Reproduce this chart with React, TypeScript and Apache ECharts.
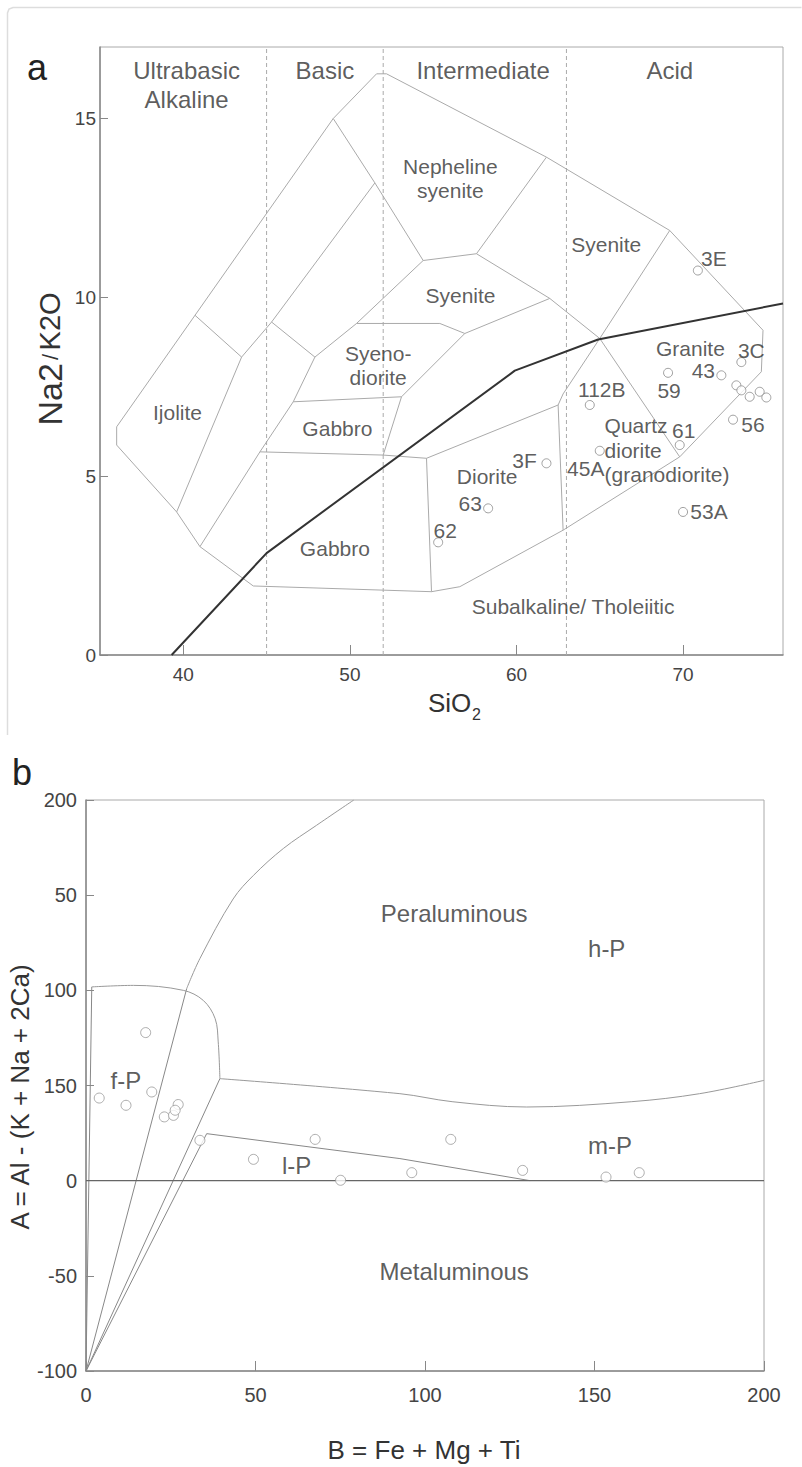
import React, { useEffect, useRef } from 'react';
import * as echarts from 'echarts';

// ---------- Panel a : Na2 / K2O vs SiO2 ----------
const xTicksA = [40, 50, 60, 70];
const yTicksA = [0, 5, 10, 15];
const silicaDividers = [45, 52, 63];
const silicaClassNames = ['Ultrabasic\nAlkaline', 'Basic', 'Intermediate', 'Acid'];
const silicaClassAnchors = [[40.2, 15.95], [48.5, 16.34], [58.0, 16.34], [69.2, 16.34]];

const outerBoundaryA = [
  [36.0, 6.38], [36.0, 5.87], [39.6, 4.0], [41.0, 3.03], [44.2, 1.93], [54.9, 1.77],
  [56.6, 1.91], [62.8, 3.49], [69.8, 5.54], [74.7, 7.92], [74.8, 9.08], [69.2, 11.87],
  [61.8, 13.92], [52.2, 16.25], [51.6, 16.25], [49.0, 15.0], [36.0, 6.38],
];
const fieldLinesA = [
  [[40.7, 9.5], [43.5, 8.33], [39.6, 4.0]],
  [[51.5, 13.2], [45.3, 9.31], [43.5, 8.33]],
  [[45.3, 9.31], [47.9, 8.33], [46.6, 7.08], [44.6, 5.68], [41.0, 3.03]],
  [[49.0, 15.0], [51.5, 13.2], [54.4, 11.03], [57.6, 11.22], [61.8, 13.92]],
  [[54.4, 11.03], [50.4, 9.27], [47.9, 8.33]],
  [[57.6, 11.22], [62.0, 9.97], [65.0, 8.85], [69.2, 11.87]],
  [[50.4, 9.27], [55.4, 9.27], [56.9, 8.99], [62.0, 9.97]],
  [[56.9, 8.99], [53.1, 7.22], [52.0, 5.59]],
  [[46.6, 7.08], [53.1, 7.22]],
  [[44.6, 5.68], [52.0, 5.59], [54.6, 5.5], [62.5, 6.99], [62.8, 7.3], [65.0, 8.85], [69.8, 5.54]],
  [[54.6, 5.5], [54.9, 1.77]],
  [[62.5, 6.99], [62.8, 3.49]],
];
const alkalineDivider = [[39.3, 0], [45.0, 2.85], [59.9, 7.95], [64.9, 8.82], [76.0, 9.83]];

const fieldNamesA = [
  'Nepheline\nsyenite', 'Syenite', 'Syenite', 'Syeno-\ndiorite', 'Ijolite', 'Gabbro',
  'Gabbro', 'Diorite', 'Granite', 'Subalkaline/ Tholeiitic',
];
const fieldAnchorsA = [
  [56.03, 13.32], [65.39, 11.49], [56.64, 10.06], [51.7, 8.1], [39.65, 6.77], [49.25, 6.34],
  [49.1, 2.99], [58.24, 4.98], [70.44, 8.58], [63.4, 1.35],
];
const quartzDioriteName = 'Quartz\ndiorite\n(granodiorite)';
const quartzDioriteAnchor = [65.29, 5.73];

const samplesA = [
  [70.89, 10.75], [73.5, 8.19], [72.3, 7.82], [69.1, 7.89], [64.4, 6.99], [69.8, 5.87],
  [73.0, 6.58], [61.8, 5.36], [65.0, 5.71], [58.3, 4.1], [55.3, 3.15], [70.0, 4.0],
  [73.2, 7.54], [73.5, 7.4], [74.0, 7.22], [74.6, 7.36], [75.0, 7.2],
];
const sampleNamesA = ['3E', '3C', '43', '59', '112B', '61', '56', '3F', '45A', '63', '62', '53A', '', '', '', '', ''];
const sampleLabelShiftA = [
  [16, -12], [10, -12], [-18, -5], [1, 18], [12, -16], [4, -15], [20, 5], [-22, -3],
  [-14, 18], [-18, -5], [7, -12], [26, 0], [0, 0], [0, 0], [0, 0], [0, 0], [0, 0],
];

// ---------- Panel b : A vs B ----------
const yTickLabelsB = ['-100', '-50', '0', '150', '100', '50', '200'];
const zeroLineB = [[0, 0], [200, 0]];
const straightLinesB = [
  [[0, -100], [1.7, 101.8]],
  [[0, -100], [29.7, 100.9]],
  [[0, -100], [39.5, 53.6]],
  [[0, -100], [35.6, 24.7]],
  [[35.6, 24.7], [92.6, 11.6], [131, 0]],
];
const curvesB = [
  [[1.7, 101.8], [14, 102.6], [28.7, 100], [34.6, 94.7], [38.1, 85.1], [39.0, 72.9], [39.5, 53.6]],
  [[29.7, 100.9], [33.6, 116.7], [43.4, 148], [49.4, 160.4], [58.2, 174.5], [68, 186.7], [79, 200]],
  [[39.5, 53.6], [92.6, 45.7], [108, 41.5], [130, 38.7], [161, 41.5], [181, 45.7], [200, 52.7]],
];
const fieldNamesB = ['Peraluminous', 'h-P', 'f-P', 'l-P', 'm-P', 'Metaluminous'];
const fieldAnchorsB = [[108.6, 140.3], [153.6, 121.9], [11.75, 52.7], [62.15, 8.05], [154.6, 18.55], [108.6, -47.8]];
const samplesB = [
  [17.6, 77.8], [19.4, 46.6], [3.9, 43.4], [11.8, 39.6], [27.2, 40.0], [23.1, 33.5],
  [25.8, 34.3], [26.3, 37.0], [33.6, 21.2], [49.4, 11.2], [67.6, 21.7], [75.1, 0.2],
  [96.1, 4.2], [107.6, 21.7], [128.8, 5.4], [153.4, 1.9], [163.2, 4.2],
];

const FONT = "'Liberation Sans', Arial, Helvetica, sans-serif";
const TXT = '#333';

function lineSeries(data: number[][], gi: number, color: string, width: number, extra: any = {}) {
  return {
    type: 'line', xAxisIndex: gi, yAxisIndex: gi, data, symbol: 'none', silent: true,
    lineStyle: { color, width, ...(extra.lineStyle || {}) }, z: extra.z ?? 2, smooth: extra.smooth ?? false,
    clip: true,
  };
}

function textSeries(names: string[], anchors: number[][], gi: number, fontSize: number, extraLabel: any = {}) {
  return {
    type: 'scatter', xAxisIndex: gi, yAxisIndex: gi, silent: true, symbolSize: 1,
    itemStyle: { color: 'rgba(0,0,0,0)' }, z: 5,
    data: names.map((n, i) => ({
      value: anchors[i],
      label: {
        show: true, formatter: n, position: 'inside', fontSize, color: TXT, fontFamily: FONT,
        align: 'center', verticalAlign: 'middle', lineHeight: fontSize * 1.2, ...extraLabel,
      },
    })),
  };
}

export default function App() {
  const ref = useRef<HTMLDivElement>(null);
  useEffect(() => {
    if (!ref.current) return;
    const chart = echarts.init(ref.current, null, { renderer: 'svg' });
    const series: any[] = [];

    // Panel a
    silicaDividers.forEach((x) => {
      series.push(lineSeries([[x, 0], [x, 17]], 0, '#aaa', 1, { lineStyle: { type: [4, 3] } }));
    });
    series.push(lineSeries(outerBoundaryA, 0, '#aaa', 1));
    fieldLinesA.forEach((l) => series.push(lineSeries(l, 0, '#aaa', 1)));
    series.push(lineSeries(alkalineDivider, 0, '#333', 2, { z: 3 }));
    series.push(textSeries(silicaClassNames, silicaClassAnchors, 0, 24, { lineHeight: 29 }));
    series.push(textSeries(fieldNamesA, fieldAnchorsA, 0, 21, { lineHeight: 24 }));
    series.push(textSeries([quartzDioriteName], [quartzDioriteAnchor], 0, 21, { lineHeight: 24.5, align: 'left' }));
    series.push({
      type: 'scatter', xAxisIndex: 0, yAxisIndex: 0, symbol: 'circle', symbolSize: 9, z: 6, silent: true,
      itemStyle: { color: '#fff', borderColor: '#888', borderWidth: 1 },
      data: samplesA.map((p, i) => ({
        value: p,
        label: {
          show: sampleNamesA[i] !== '', formatter: sampleNamesA[i], position: 'inside',
          offset: sampleLabelShiftA[i], fontSize: 21, color: TXT, fontFamily: FONT,
          align: 'center', verticalAlign: 'middle',
        },
      })),
    });

    // Panel b
    series.push(lineSeries(zeroLineB, 1, '#666', 1.2, { z: 3 }));
    straightLinesB.forEach((l) => series.push(lineSeries(l, 1, '#888', 1)));
    curvesB.forEach((l) => series.push(lineSeries(l, 1, '#999', 1, { smooth: 0.35 })));
    series.push(textSeries(fieldNamesB, fieldAnchorsB, 1, 24));
    series.push({
      type: 'scatter', xAxisIndex: 1, yAxisIndex: 1, symbol: 'circle', symbolSize: 10, z: 6, silent: true,
      itemStyle: { color: '#fff', borderColor: '#999', borderWidth: 1 },
      data: samplesB,
    });

    const axisLine = { show: true, onZero: false, lineStyle: { color: '#888', width: 1.5 } };
    const tickStyle = { color: '#888', width: 1 };

    chart.setOption({
      animation: false,
      textStyle: { fontFamily: FONT },
      grid: [
        { left: 100, top: 47, width: 683, height: 608, show: true, borderColor: '#aaa', borderWidth: 1 },
        { left: 86, top: 800, width: 678, height: 571, show: true, borderColor: '#aaa', borderWidth: 1 },
      ],
      xAxis: [
        {
          gridIndex: 0, type: 'value', min: 35, max: 76, axisLine,
          axisTick: { show: true, inside: true, length: 10, customValues: xTicksA, lineStyle: tickStyle },
          axisLabel: { customValues: xTicksA, fontSize: 19, color: '#444', margin: 10 },
          splitLine: { show: false },
        },
        {
          gridIndex: 1, type: 'value', min: 0, max: 200, interval: 50, axisLine,
          axisTick: { show: true, inside: true, length: 10, lineStyle: tickStyle },
          axisLabel: { fontSize: 20, color: '#444', margin: 14 },
          splitLine: { show: false },
        },
      ],
      yAxis: [
        {
          gridIndex: 0, type: 'value', min: 0, max: 17, axisLine,
          axisTick: { show: true, inside: true, length: 8, customValues: yTicksA, lineStyle: tickStyle },
          axisLabel: { customValues: yTicksA, fontSize: 19, color: '#444', margin: 4 },
          splitLine: { show: false },
        },
        {
          gridIndex: 1, type: 'value', min: -100, max: 200, interval: 50, axisLine,
          axisTick: { show: true, inside: true, length: 8, lineStyle: tickStyle },
          axisLabel: {
            fontSize: 20, color: '#444', margin: 9,
            formatter: (v: number) => yTickLabelsB[Math.round((v + 100) / 50)] ?? String(v),
          },
          splitLine: { show: false },
        },
      ],
      graphic: [
        {
          type: 'polyline', silent: true,
          shape: { points: [[7.5, 735], [7.5, 13], [9, 9], [13, 7.5], [801.5, 7.5]] },
          style: { stroke: '#ddd', lineWidth: 1.5, fill: 'none' },
        },
        { type: 'text', x: 37, y: 67, silent: true, style: { text: 'a', fontSize: 36, fill: '#222', align: 'center', verticalAlign: 'middle', fontFamily: FONT } },
        { type: 'text', x: 22, y: 772, silent: true, style: { text: 'b', fontSize: 36, fill: '#222', align: 'center', verticalAlign: 'middle', fontFamily: FONT } },
        {
          type: 'text', x: 50, y: 359, rotation: Math.PI / 2, silent: true,
          style: {
            text: '{n|Na2} {s|/} {k|K2O}', align: 'center', verticalAlign: 'middle', fill: TXT, fontFamily: FONT,
            rich: { n: { fontSize: 34, fill: TXT }, s: { fontSize: 22, fill: TXT }, k: { fontSize: 29, fill: TXT } },
          },
        },
        { type: 'text', x: 428, y: 716, silent: true, style: { text: 'SiO', fontSize: 26, fill: TXT, align: 'left', verticalAlign: 'bottom', fontFamily: FONT } },
        { type: 'text', x: 472, y: 722, silent: true, style: { text: '2', fontSize: 16, fill: TXT, align: 'left', verticalAlign: 'bottom', fontFamily: FONT } },
        {
          type: 'text', x: 20, y: 1097, rotation: Math.PI / 2, silent: true,
          style: { text: 'A = Al - (K + Na + 2Ca)', fontSize: 26, fill: TXT, align: 'center', verticalAlign: 'middle', fontFamily: FONT },
        },
        { type: 'text', x: 424, y: 1450, silent: true, style: { text: 'B = Fe + Mg + Ti', fontSize: 26, fill: TXT, align: 'center', verticalAlign: 'middle', fontFamily: FONT } },
      ],
      series,
    });
    return () => chart.dispose();
  }, []);
  return <div ref={ref} style={{ position: 'fixed', left: 0, top: 0, width: 802, height: 1467, background: '#fff' }} />;
}
